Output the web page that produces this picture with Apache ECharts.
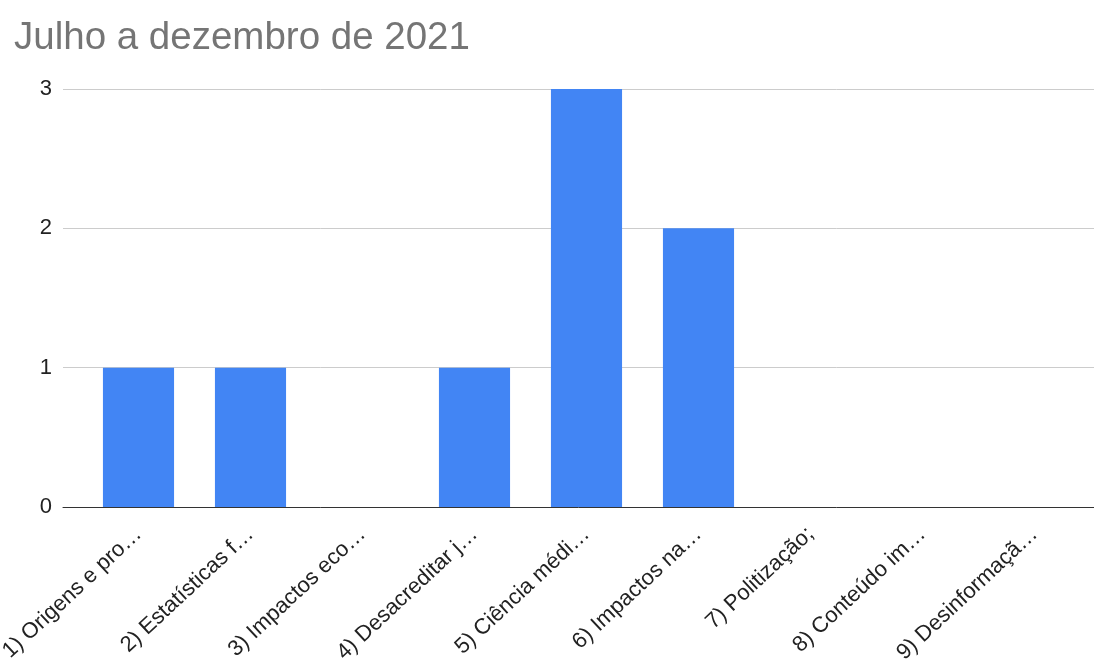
<!DOCTYPE html>
<html>
<head>
<meta charset="utf-8">
<script src="https://cdn.jsdelivr.net/npm/echarts@6/dist/echarts.min.js"></script>
<style>
html, body { margin: 0; padding: 0; background: #fff; }
#chart { width: 1094px; height: 666px; }
</style>
</head>
<body>
<div id="chart"></div>
<script>
// Topics and how many items fell under each one
const categories = [
  '1) Origens e pro…',
  '2) Estatísticas f…',
  '3) Impactos eco…',
  '4) Desacreditar j…',
  '5) Ciência médi…',
  '6) Impactos na…',
  '7) Politização;',
  '8) Conteúdo im…',
  '9) Desinformaçã…'
];
const counts = [1, 1, 0, 1, 3, 2, 0, 0, 0];
const yTicks = [0, 1, 2, 3];

const titleText = 'Julho a dezembro de 2021';
const FONT = '"Liberation Sans", Arial, sans-serif';
const yMin = yTicks[0];
const yMax = yTicks[yTicks.length - 1];

const chart = echarts.init(document.getElementById('chart'), null, { renderer: 'canvas' });

chart.setOption({
  animation: false,
  backgroundColor: '#ffffff',
  textStyle: { fontFamily: FONT },
  title: {
    text: titleText,
    left: 9,
    top: 14,
    textStyle: { fontFamily: FONT, fontSize: 38.5, fontWeight: 'normal', color: '#757575' }
  },
  grid: [
    // Frame: value axis labels, gridlines and baseline across the full width
    { left: 63, right: 0, top: 89, bottom: 159, containLabel: false, outerBoundsMode: 'none' },
    // Bars: category bands inset inside the frame
    { left: 82.5, right: 3.5, top: 89, bottom: 159, containLabel: false, outerBoundsMode: 'none' }
  ],
  xAxis: [
    {
      gridIndex: 0, type: 'value', min: 0, max: 1,
      axisLine: { show: true, onZero: false, lineStyle: { color: '#333333', width: 1 } },
      axisTick: { show: false }, axisLabel: { show: false }, splitLine: { show: false }
    },
    {
      gridIndex: 1, type: 'category', data: categories,
      axisLine: { show: false }, axisTick: { show: false },
      axisLabel: {
        interval: 0, rotate: 43, margin: 24,
        fontFamily: FONT, fontSize: 22, color: '#222222'
      }
    }
  ],
  yAxis: [
    {
      gridIndex: 0, type: 'value', min: yMin, max: yMax, interval: 1,
      axisLine: { show: false }, axisTick: { show: false },
      axisLabel: { margin: 11, fontFamily: FONT, fontSize: 22, color: '#222222' },
      splitLine: { show: true, lineStyle: { color: '#cccccc', width: 1 } }
    },
    {
      gridIndex: 1, type: 'value', min: yMin, max: yMax, interval: 1,
      axisLine: { show: false }, axisTick: { show: false },
      axisLabel: { show: false }, splitLine: { show: false }
    }
  ],
  series: [
    {
      type: 'bar',
      xAxisIndex: 1,
      yAxisIndex: 1,
      data: counts,
      barWidth: '63.5%',
      itemStyle: { color: '#4285f4' }
    }
  ]
});
</script>
</body>
</html>
